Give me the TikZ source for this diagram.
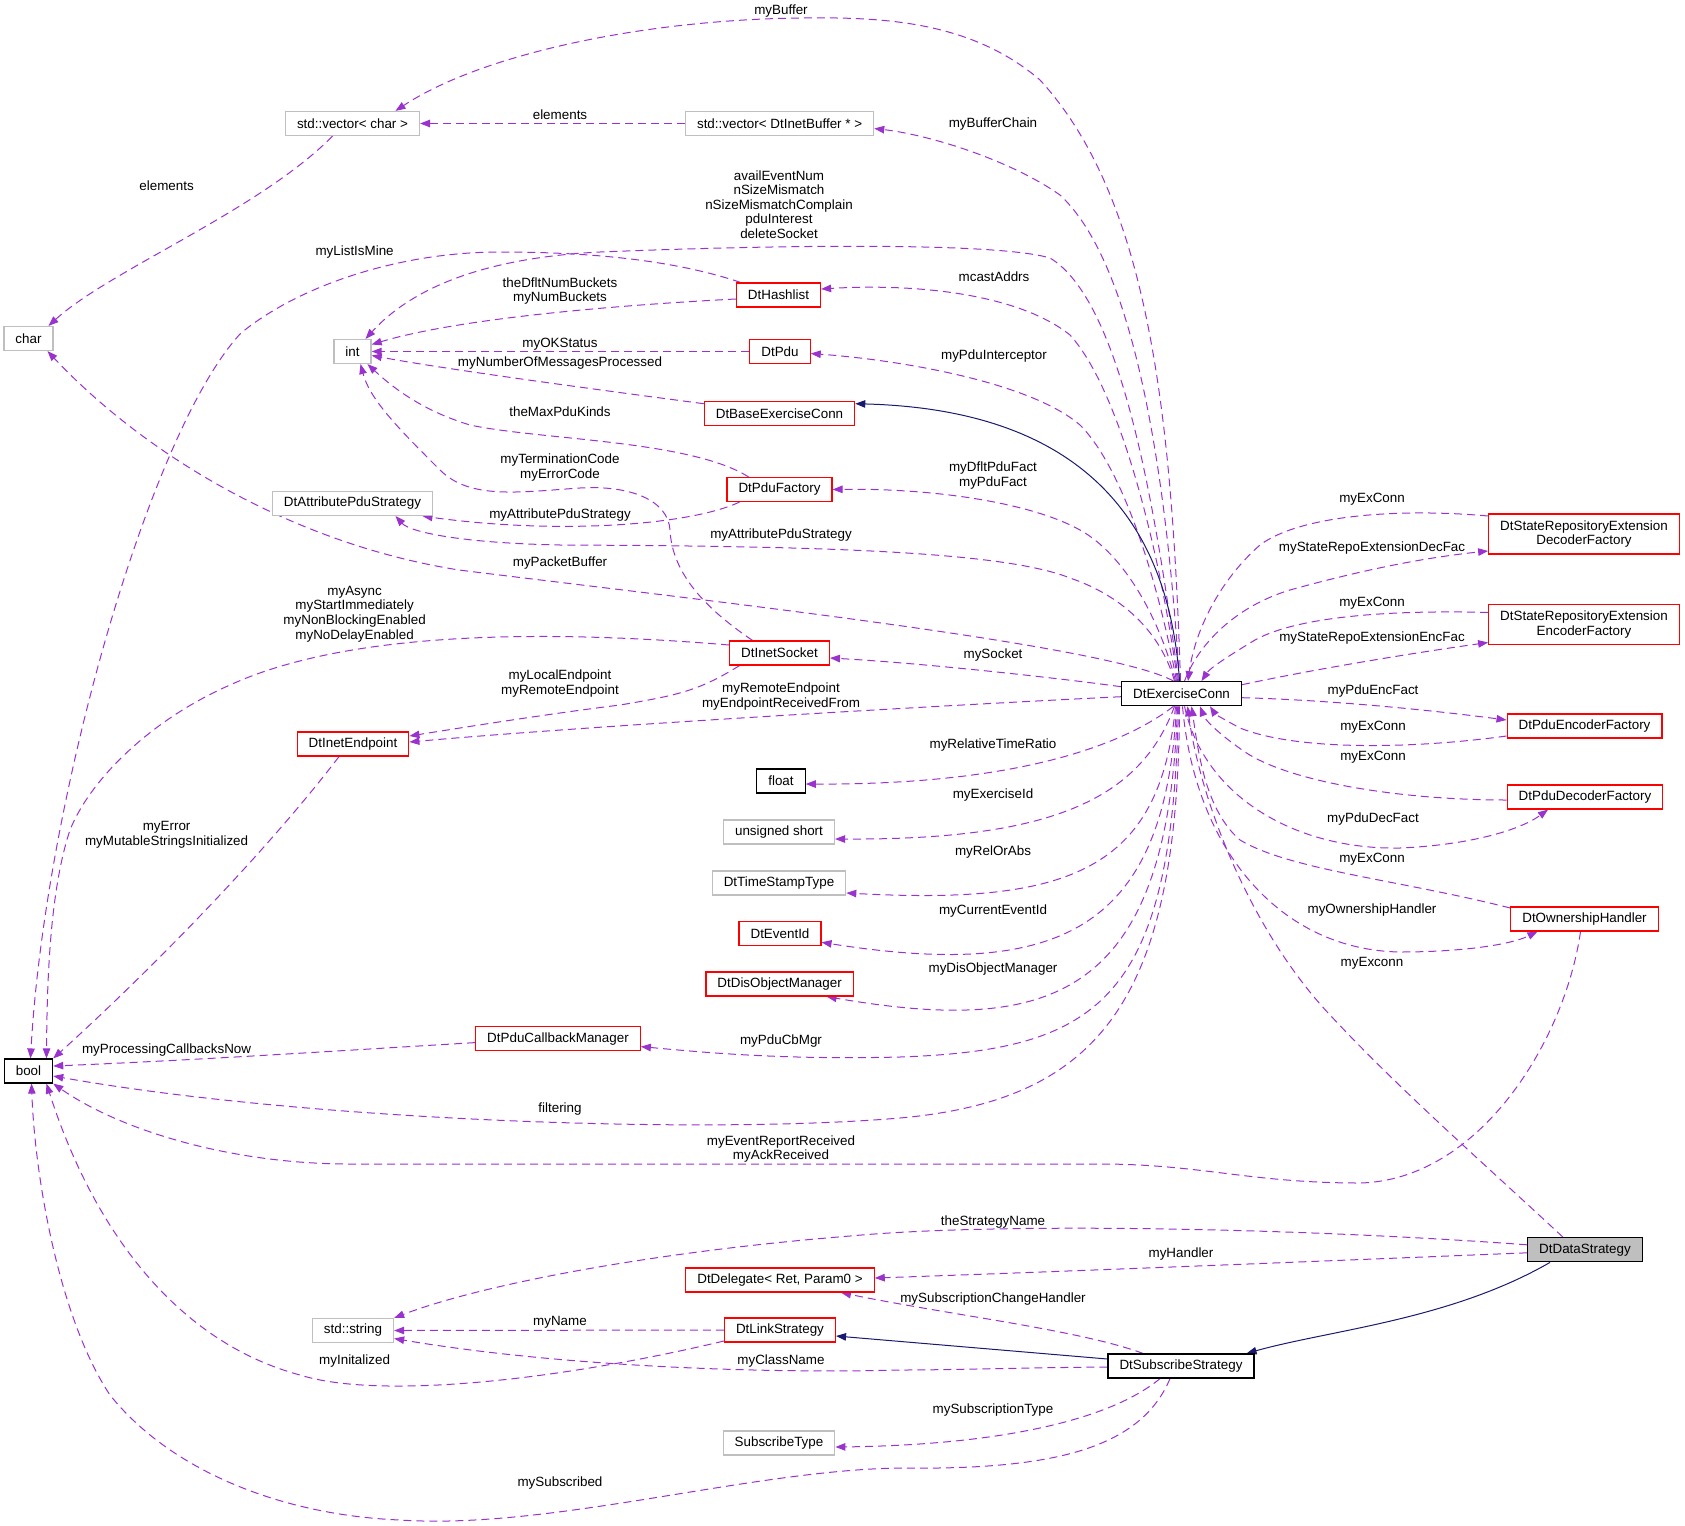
\documentclass[tikz,border=0pt]{standalone}
\usepackage{fontspec}
\setmainfont{Liberation Sans}
\usetikzlibrary{arrows.meta}
\pgfdeclarelayer{edgelayer}
\pgfsetlayers{edgelayer,main}
\definecolor{orch}{RGB}{154,50,205}
\definecolor{mnavy}{RGB}{25,25,112}
\definecolor{gvred}{RGB}{255,0,0}
\definecolor{gvgray}{RGB}{191,191,191}
\newcommand\gvfont{\fontsize{13.4}{14.6}\selectfont}
\tikzset{
  mem/.style={draw=orch, line width=1pt, dash pattern=on 8pt off 5pt, -{Triangle[length=10pt,width=7.5pt]}},
  inh/.style={draw=mnavy, line width=1pt, -{Triangle[length=10pt,width=7.5pt]}},
  lbl/.style={font=\gvfont, align=center, inner sep=0pt},
  box/.style={draw, line width=1.2pt, minimum height=24pt, inner xsep=11.5pt, inner ysep=3pt, font=\gvfont, align=center, fill=white},
  redbox/.style={box, draw=gvred},
  graybox/.style={box, draw=gvgray},
  blackbox/.style={box, draw=black},
}
\begin{document}
\begin{tikzpicture}[x=1pt,y=-1pt]
\useasboundingbox (0,0) rectangle (1685,1525);
% ---------------- nodes -----------------
\node[graybox] (vb) at (779.6,123.5) {std::vector< DtInetBuffer * >};
\node[graybox] (vc) at (352.5,123.5) {std::vector< char >};
\node[graybox] (chr) at (28.5,338.5) {char};
\node[blackbox] (boo) at (28.5,1071) {bool};
\node[graybox] (nint) at (352.5,351.5) {int};
\node[redbox] (hl) at (778.5,295) {DtHashlist};
\node[redbox] (pdu) at (780,351.5) {DtPdu};
\node[redbox] (bec) at (779.5,413.7) {DtBaseExerciseConn};
\node[redbox] (pf) at (779.5,489.5) {DtPduFactory};
\node[graybox] (aps) at (352.5,503.5) {DtAttributePduStrategy};
\node[redbox] (sock) at (779.5,653) {DtInetSocket};
\node[redbox] (iep) at (353,744) {DtInetEndpoint};
\node[blackbox] (flt) at (781,781) {float};
\node[graybox] (us) at (779,832) {unsigned short};
\node[graybox] (tst) at (779,883) {DtTimeStampType};
\node[redbox] (eid) at (780,933.3) {DtEventId};
\node[redbox] (dom) at (779.6,984) {DtDisObjectManager};
\node[redbox] (pcm) at (558,1038.6) {DtPduCallbackManager};
\node[blackbox] (ec) at (1181.5,693.7) {DtExerciseConn};
\node[redbox, minimum height=40pt, inner ysep=2pt] (sdec) at (1584,534) {DtStateRepositoryExtension\\DecoderFactory};
\node[redbox, minimum height=40pt, inner ysep=2pt] (senc) at (1584,624.5) {DtStateRepositoryExtension\\EncoderFactory};
\node[redbox] (pef) at (1584.5,726) {DtPduEncoderFactory};
\node[redbox] (pdf) at (1585,797) {DtPduDecoderFactory};
\node[redbox] (oh) at (1584.5,919) {DtOwnershipHandler};
\node[blackbox, fill=gvgray] (ds) at (1585,1249.8) {DtDataStrategy};
\node[redbox] (del) at (780,1280) {DtDelegate< Ret, Param0 >};
\node[graybox] (str) at (353,1330.5) {std::string};
\node[redbox] (ls) at (780,1330) {DtLinkStrategy};
\node[blackbox] (ss) at (1181,1366) {DtSubscribeStrategy};
\node[graybox] (st) at (779,1443) {SubscribeType};

\begin{pgfonlayer}{edgelayer}
% ---------------- edges from DtExerciseConn -----------------
\draw[mem] ([xshift=-1pt]ec.north) .. controls (1172,420) and (1150,200) .. (1040,80) .. controls (970,20) and (880,17) .. (800,18) .. controls (640,20) and (480,55) .. ([xshift=43pt]vc.north);
\draw[mem] ([xshift=-2pt]ec.north) .. controls (1165,450) and (1130,260) .. (1060,195) .. controls (1010,160) and (930,135) .. ([yshift=-5pt]vb.east);
\draw[mem] ([xshift=-3pt]ec.north) .. controls (1155,500) and (1120,300) .. (1050,258) .. controls (1000,243) and (800,244) .. (600,252) .. controls (480,258) and (410,290) .. ([xshift=13pt]nint.north);
\draw[mem] ([xshift=-4pt]ec.north) .. controls (1160,550) and (1120,390) .. (1070,335) .. controls (1020,295) and (920,283) .. ([yshift=6pt]hl.east);
\draw[mem] ([xshift=-5pt]ec.north) .. controls (1160,590) and (1125,470) .. (1080,425) .. controls (1030,382) and (900,360) .. ([yshift=-2pt]pdu.east);
\draw[inh] ([xshift=-2pt]ec.north) .. controls (1170,540) and (1100,410) .. ([yshift=10pt]bec.east);
\draw[mem] ([xshift=-6pt]ec.north) .. controls (1160,620) and (1125,555) .. (1080,530) .. controls (1030,502) and (930,488) .. (pf.east);
\draw[mem] ([xshift=-7pt]ec.north) .. controls (1160,630) and (1120,595) .. (1070,578) .. controls (1000,550) and (800,546) .. (560,545) .. controls (460,543) and (410,532) .. ([xshift=43pt]aps.south);
\draw[mem] ([xshift=-8pt]ec.north) .. controls (1110,645) and (700,600) .. (459,570) .. controls (300,545) and (150,460) .. ([xshift=19pt]chr.south);
\draw[mem] ([yshift=7pt]ec.west) .. controls (1050,677) and (920,663) .. ([yshift=-5pt]sock.east);
\draw[mem] ([yshift=-3pt]ec.west) .. controls (950,705) and (600,725) .. ([yshift=2pt]iep.east);
\draw[mem] ([xshift=-8pt]ec.south) .. controls (1130,740) and (1030,785) .. ([yshift=-3pt]flt.east);
\draw[mem] ([xshift=-7pt]ec.south) .. controls (1140,800) and (1050,840) .. ([yshift=-7pt]us.east);
\draw[mem] ([xshift=-6pt]ec.south) .. controls (1160,870) and (1070,905) .. ([yshift=-10pt]tst.east);
\draw[mem] ([xshift=-5pt]ec.south) .. controls (1165,930) and (1060,980) .. ([yshift=-9pt]eid.east);
\draw[mem] ([xshift=-4pt]ec.south) .. controls (1168,1000) and (1050,1035) .. ([xshift=47pt]dom.south);
\draw[mem] ([xshift=-3pt]ec.south) .. controls (1172,1000) and (1100,1050) .. (900,1057) .. controls (780,1060) and (700,1052) .. ([yshift=-8pt]pcm.east);
\draw[mem] ([xshift=-2pt]ec.south) .. controls (1178,1000) and (1100,1100) .. (900,1118) .. controls (700,1135) and (300,1120) .. ([yshift=-5pt]boo.east);
% right side
\draw[mem] ([xshift=3pt]ec.north) .. controls (1200,640) and (1240,605) .. (1290,590) .. controls (1380,565) and (1440,556) .. ([yshift=-17pt]sdec.west);
\draw[mem] ([yshift=18pt]sdec.west) .. controls (1400,508) and (1300,515) .. (1260,545) .. controls (1220,580) and (1195,630) .. ([xshift=6.5pt]ec.north);
\draw[mem] ([yshift=12pt]senc.west) .. controls (1400,610) and (1300,615) .. (1255,640) .. controls (1230,655) and (1210,668) .. ([xshift=20pt]ec.north);
\draw[mem] ([yshift=9pt]ec.east) .. controls (1320,668) and (1420,652) .. ([yshift=-18pt]senc.west);
\draw[mem] ([yshift=-4pt]ec.east) .. controls (1330,700) and (1430,710) .. ([yshift=6pt]pef.west);
\draw[mem] ([yshift=-10pt]pef.west) .. controls (1420,748) and (1300,752) .. (1240,728) .. controls (1225,720) and (1215,714) .. ([xshift=28.5pt]ec.south);
\draw[mem] ([yshift=-3pt]pdf.west) .. controls (1400,800) and (1290,782) .. (1245,752) .. controls (1220,735) and (1205,720) .. ([xshift=18.5pt]ec.south);
\draw[mem] ([xshift=3pt]ec.south) .. controls (1205,800) and (1300,850) .. (1400,848) .. controls (1470,845) and (1520,830) .. ([xshift=-37pt]pdf.south);
\draw[mem] ([yshift=11pt]oh.west) .. controls (1400,880) and (1290,870) .. (1240,840) .. controls (1205,810) and (1198,750) .. ([xshift=10pt]ec.south);
\draw[mem] ([xshift=1pt]ec.south) .. controls (1195,850) and (1280,950) .. (1400,952) .. controls (1460,952) and (1510,945) .. ([xshift=-47pt]oh.south);
\draw[mem] ([xshift=-22pt]ds.north) .. controls (1480,1160) and (1400,1090) .. (1330,1015) .. controls (1250,930) and (1200,800) .. ([xshift=6pt]ec.south);
\draw[mem] ([xshift=-4pt]oh.south) .. controls (1565,1040) and (1480,1180) .. (1360,1183) .. controls (1250,1183) and (1200,1164) .. (1100,1164) -- (350,1164) .. controls (230,1164) and (120,1130) .. (boo.south east);
% DtDataStrategy and DtSubscribeStrategy
\draw[mem] ([yshift=5pt]ds.west) .. controls (1300,1228) and (1000,1222) .. (850,1236) .. controls (650,1252) and (480,1285) .. (str.north east);
\draw[mem] ([yshift=-3pt]ds.west) .. controls (1300,1262) and (1050,1272) .. ([yshift=2pt]del.east);
\draw[inh] ([xshift=-35pt]ds.south) .. controls (1450,1320) and (1330,1330) .. ([xshift=-8pt]ss.north east);
\draw[mem] ([xshift=-38pt]ss.north) .. controls (1080,1330) and (950,1315) .. ([xshift=61pt]del.south);
\draw[inh] ([yshift=7pt]ss.west) -- ([yshift=-6pt]ls.east);
\draw[mem] ([yshift=-1pt]ss.west) .. controls (1000,1368) and (950,1370) .. (900,1370) .. controls (750,1374) and (550,1365) .. ([yshift=-8pt]str.east);
\draw[mem] (ls.west) -- (str.east);
\draw[mem] ([yshift=-11pt]ls.west) .. controls (560,1380) and (380,1400) .. (300,1375) .. controls (170,1340) and (90,1220) .. ([xshift=18pt]boo.south);
\draw[mem] ([xshift=-21pt]ss.south) .. controls (1110,1420) and (1000,1445) .. ([yshift=-4pt]st.east);
\draw[mem] ([xshift=-11pt]ss.south) .. controls (1140,1450) and (1050,1470) .. (900,1468) .. controls (750,1470) and (550,1530) .. (400,1520) .. controls (280,1515) and (170,1470) .. (110,1395) .. controls (60,1320) and (35,1180) .. ([xshift=3pt]boo.south);
% left part
\draw[mem] (vb.west) -- (vc.east);
\draw[mem] ([xshift=-20pt]vc.south) .. controls (260,210) and (110,270) .. ([xshift=20pt]chr.north);
\draw[mem] ([yshift=-4pt]hl.west) .. controls (620,305) and (460,318) .. ([yshift=7pt]nint.east);
\draw[mem] ([xshift=-38pt]hl.north) .. controls (680,262) and (600,252) .. (500,252) .. controls (400,252) and (300,285) .. (241,333) .. controls (150,430) and (45,800) .. ([xshift=2pt]boo.north);
\draw[mem] (pdu.west) -- (nint.east);
\draw[mem] ([yshift=10pt]bec.west) .. controls (600,390) and (450,370) .. ([yshift=-4pt]nint.east);
\draw[mem] ([xshift=-31pt]pf.north) .. controls (690,440) and (540,440) .. (470,425) .. controls (420,410) and (390,385) .. ([xshift=15pt]nint.south);
\draw[mem] ([xshift=-27pt]sock.north) .. controls (700,605) and (672,570) .. (670,530) .. controls (668,500) and (630,485) .. (580,488) .. controls (520,492) and (470,500) .. (440,470) .. controls (400,430) and (370,400) .. ([xshift=8pt]nint.south);
\draw[mem] ([xshift=-40pt]pf.south) .. controls (690,525) and (560,535) .. ([xshift=70pt]aps.south);
\draw[mem] ([yshift=8pt]sock.west) .. controls (550,630) and (350,630) .. (230,685) .. controls (150,720) and (90,780) .. (70,830) .. controls (50,890) and (47,980) .. ([xshift=18pt]boo.north);
\draw[mem] ([xshift=-40pt]sock.south) .. controls (700,690) and (680,695) .. (620,705) .. controls (540,715) and (460,728) .. ([yshift=8pt]iep.east);
\draw[mem] ([xshift=-14pt]iep.south) .. controls (260,860) and (140,980) .. (boo.north east);
\draw[mem] ([yshift=-4pt]pcm.west) .. controls (350,1050) and (200,1060) .. ([yshift=5pt]boo.east);
\end{pgfonlayer}

% ---------------- labels -----------------
\node[lbl] (l01) at (781,11) {myBuffer};
\node[lbl] (l02) at (560,115) {elements};
\node[lbl] (l03) at (993,123.6) {myBufferChain};
\node[lbl] (l04) at (166.6,186) {elements};
\node[lbl] (l05) at (779,204.5) {availEventNum\\nSizeMismatch\\nSizeMismatchComplain\\pduInterest\\deleteSocket};
\node[lbl] (l06) at (354.6,252.5) {myListIsMine};
\node[lbl] (l07) at (994,277) {mcastAddrs};
\node[lbl] (l08) at (560,291) {theDfltNumBuckets\\myNumBuckets};
\node[lbl] (l09) at (560,344) {myOKStatus};
\node[lbl] (l10) at (994,355.7) {myPduInterceptor};
\node[lbl] (l11) at (560,363) {myNumberOfMessagesProcessed};
\node[lbl] (l12) at (560,411.6) {theMaxPduKinds};
\node[lbl] (l13) at (560,467.5) {myTerminationCode\\myErrorCode};
\node[lbl] (l14) at (993,475.5) {myDfltPduFact\\myPduFact};
\node[lbl] (l15) at (1372,499.7) {myExConn};
\node[lbl] (l16) at (560,514.7) {myAttributePduStrategy};
\node[lbl] (l17) at (781,535) {myAttributePduStrategy};
\node[lbl] (l18) at (1372,548) {myStateRepoExtensionDecFac};
\node[lbl] (l19) at (560,563) {myPacketBuffer};
\node[lbl] (l20) at (354.6,614) {myAsync\\myStartImmediately\\myNonBlockingEnabled\\myNoDelayEnabled};
\node[lbl] (l21) at (1372,603) {myExConn};
\node[lbl] (l22) at (1372,638) {myStateRepoExtensionEncFac};
\node[lbl] (l23) at (993,655.5) {mySocket};
\node[lbl] (l24) at (560,683.5) {myLocalEndpoint\\myRemoteEndpoint};
\node[lbl] (l25) at (781,696.5) {myRemoteEndpoint\\myEndpointReceivedFrom};
\node[lbl] (l26) at (1373,691) {myPduEncFact};
\node[lbl] (l27) at (1373,727.5) {myExConn};
\node[lbl] (l28) at (993,744.7) {myRelativeTimeRatio};
\node[lbl] (l29) at (1373,757.6) {myExConn};
\node[lbl] (l30) at (993,795) {myExerciseId};
\node[lbl] (l31) at (1373,819) {myPduDecFact};
\node[lbl] (l32) at (166.6,835) {myError\\myMutableStringsInitialized};
\node[lbl] (l33) at (993,852) {myRelOrAbs};
\node[lbl] (l34) at (1372,859.7) {myExConn};
\node[lbl] (l35) at (1372,910) {myOwnershipHandler};
\node[lbl] (l36) at (993,911) {myCurrentEventId};
\node[lbl] (l37) at (1372,963) {myExconn};
\node[lbl] (l38) at (993,969) {myDisObjectManager};
\node[lbl] (l39) at (781,1041) {myPduCbMgr};
\node[lbl] (l40) at (166.6,1050) {myProcessingCallbacksNow};
\node[lbl] (l41) at (560,1109) {filtering};
\node[lbl] (l42) at (781,1149) {myEventReportReceived\\myAckReceived};
\node[lbl] (l43) at (993,1222) {theStrategyName};
\node[lbl] (l44) at (1181,1254) {myHandler};
\node[lbl] (l45) at (993,1299) {mySubscriptionChangeHandler};
\node[lbl] (l46) at (560,1322) {myName};
\node[lbl] (l47) at (354.6,1361.5) {myInitalized};
\node[lbl] (l48) at (781,1361.5) {myClassName};
\node[lbl] (l49) at (993,1410) {mySubscriptionType};
\node[lbl] (l50) at (560,1483) {mySubscribed};
\end{tikzpicture}
\end{document}
